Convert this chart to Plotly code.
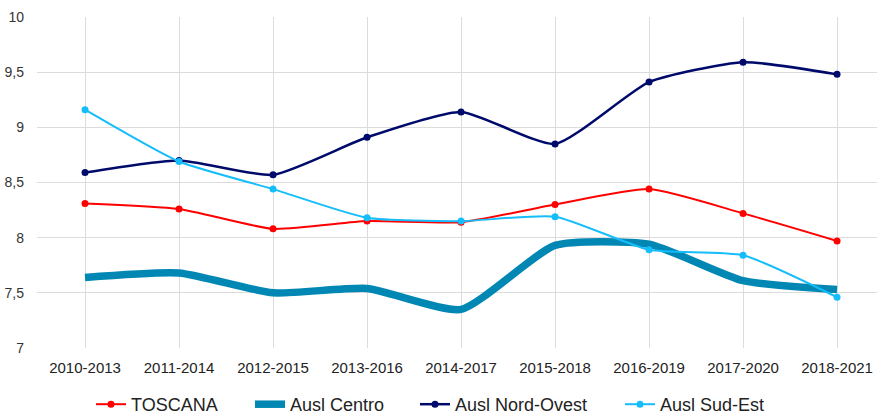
import plotly.graph_objects as go

periods = ["2010-2013", "2011-2014", "2012-2015", "2013-2016", "2014-2017",
           "2015-2018", "2016-2019", "2017-2020", "2018-2021"]
toscana = [8.31, 8.26, 8.08, 8.15, 8.14, 8.30, 8.44, 8.22, 7.97]
ausl_centro = [7.64, 7.68, 7.50, 7.54, 7.35, 7.93, 7.94, 7.61, 7.53]
ausl_nord_ovest = [8.59, 8.70, 8.57, 8.91, 9.14, 8.85, 9.41, 9.59, 9.48]
ausl_sud_est = [9.16, 8.69, 8.44, 8.18, 8.15, 8.19, 7.89, 7.84, 7.46]
y_ticks = [7, 7.5, 8, 8.5, 9, 9.5, 10]

SM = 0.55
fig = go.Figure()
fig.add_trace(go.Scatter(x=periods, y=toscana, name="TOSCANA", mode="lines+markers",
                         line=dict(color="#ff0000", width=2, shape="spline", smoothing=SM),
                         marker=dict(size=7, color="#ff0000"), legend="legend"))
fig.add_trace(go.Scatter(x=periods, y=ausl_centro, name="Ausl Centro", mode="lines",
                         line=dict(color="#0087b3", width=7.5, shape="spline", smoothing=SM),
                         legend="legend2"))
fig.add_trace(go.Scatter(x=periods, y=ausl_nord_ovest, name="Ausl Nord-Ovest", mode="lines+markers",
                         line=dict(color="#000a6b", width=2.5, shape="spline", smoothing=SM),
                         marker=dict(size=7, color="#000a6b"), legend="legend3"))
fig.add_trace(go.Scatter(x=periods, y=ausl_sud_est, name="Ausl Sud-Est", mode="lines+markers",
                         line=dict(color="#16bdfb", width=2, shape="spline", smoothing=SM),
                         marker=dict(size=7, color="#16bdfb"), legend="legend4"))

W, H = 877, 416


def leg(px):
    return dict(orientation="h", xref="container", yref="container",
                x=px / W, xanchor="left", y=1 - 386 / H, yanchor="top",
                font=dict(size=18, color="#222222"), bgcolor="rgba(0,0,0,0)")


fig.update_layout(
    width=W, height=H,
    margin=dict(l=37, r=0, t=17, b=68),
    paper_bgcolor="white", plot_bgcolor="white",
    separators=",.",
    font=dict(family="Liberation Sans, Arial, sans-serif", color="#333333"),
    showlegend=True,
    legend=leg(91), legend2=leg(250), legend3=leg(415), legend4=leg(620),
    xaxis=dict(type="category", range=[-0.511, 8.425], showgrid=True, gridcolor="#dcdcdc",
               gridwidth=1, showline=False, zeroline=False, ticks="", automargin=False,
               tickfont=dict(size=15, color="#222222"), ticklabelstandoff=9),
    yaxis=dict(range=[7, 10], tickvals=y_ticks, showgrid=True, gridcolor="#dcdcdc",
               gridwidth=1, showline=False, zeroline=False, ticks="", automargin=False,
               tickfont=dict(size=14, color="#333333"), ticklabelstandoff=12),
)

fig.write_html("out.html", config={"displayModeBar": False},
               post_script="document.body.style.margin='0';document.body.style.overflow='hidden';")
